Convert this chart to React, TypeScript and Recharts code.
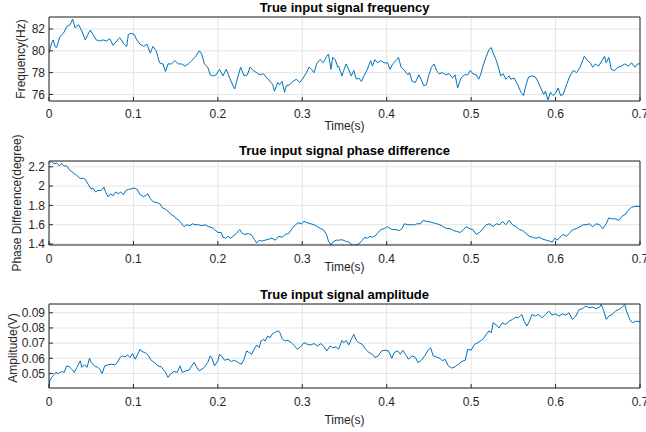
import React from 'react';
import { LineChart, Line, XAxis, YAxis, CartesianGrid } from 'recharts';

const timeTicks = [0, 0.1, 0.2, 0.3, 0.4, 0.5, 0.6, 0.7];
const freqTicks = [76, 78, 80, 82];
const phaseTicks = [1.4, 1.6, 1.8, 2, 2.2];
const ampTicks = [0.05, 0.06, 0.07, 0.08, 0.09];

const freqDomain = [75.4, 83.1];
const phaseDomain = [1.39, 2.26];
const ampDomain = [0.0404, 0.0958];

const titles = ['True input signal frequency', 'True input signal phase difference', 'True input signal amplitude'];
const yLabels = ['Frequency(Hz)', 'Phase Difference(degree)', 'Amplitude(V)'];
const xLabel = 'Time(s)';

// [time (s), frequency (Hz)]
const freqSamples: number[][] = [
  [0, 79.8], [0.003, 80.7], [0.005, 81.0], [0.007, 80.4], [0.009, 80.3], [0.013, 81.3], [0.017, 81.6], [0.021, 82.2], [0.025, 82.4], [0.028, 82.9],
  [0.031, 82.1], [0.035, 82.4], [0.039, 81.8], [0.043, 81.0], [0.046, 81.5], [0.049, 81.9], [0.052, 81.5], [0.056, 81.0], [0.06, 80.9], [0.064, 81.0],
  [0.068, 80.9], [0.072, 81.1], [0.076, 80.5], [0.08, 80.9], [0.084, 81.2], [0.088, 80.7], [0.092, 80.4], [0.094, 81.5], [0.097, 81.6], [0.101, 81.5],
  [0.104, 81.0], [0.108, 80.6], [0.112, 80.4], [0.116, 80.6], [0.12, 79.8], [0.123, 80.4], [0.127, 80.0], [0.131, 78.9], [0.135, 78.8], [0.138, 78.1],
  [0.141, 78.8], [0.145, 78.8], [0.149, 79.1], [0.153, 78.8], [0.157, 78.8], [0.161, 78.6], [0.165, 78.8], [0.169, 79.1], [0.173, 79.4], [0.178, 80.0],
  [0.181, 79.7], [0.184, 78.8], [0.188, 78.5], [0.191, 77.8], [0.194, 77.7], [0.198, 77.8], [0.202, 78.3], [0.206, 77.7], [0.21, 78.3], [0.214, 77.5],
  [0.218, 76.8], [0.22, 76.5], [0.223, 77.4], [0.227, 78.5], [0.231, 77.7], [0.235, 77.8], [0.238, 78.5], [0.242, 78.2], [0.246, 78.0], [0.25, 77.8],
  [0.254, 77.9], [0.258, 77.5], [0.262, 77.2], [0.265, 76.9], [0.267, 76.3], [0.271, 77.1], [0.273, 76.9], [0.276, 77.2], [0.279, 76.2], [0.281, 76.8],
  [0.285, 76.9], [0.289, 77.2], [0.293, 77.4], [0.297, 77.1], [0.301, 77.5], [0.305, 78.0], [0.308, 78.5], [0.311, 78.3], [0.314, 78.0], [0.317, 78.8],
  [0.321, 79.2], [0.325, 78.9], [0.329, 79.5], [0.331, 79.7], [0.334, 78.3], [0.336, 79.4], [0.339, 79.2], [0.342, 78.5],
  [0.343, 78.6], [0.347, 77.7], [0.349, 78.2], [0.352, 78.8], [0.355, 78.3], [0.358, 77.7], [0.361, 78.2], [0.364, 77.4], [0.367, 77.5], [0.37, 77.2],
  [0.373, 77.7], [0.377, 78.3], [0.381, 79.1], [0.383, 78.6], [0.386, 79.2], [0.389, 78.9], [0.393, 79.1], [0.397, 78.9], [0.401, 78.9], [0.404, 78.3],
  [0.407, 78.8], [0.411, 79.1], [0.414, 79.4], [0.417, 78.5], [0.421, 78.2], [0.425, 77.8], [0.427, 78.0], [0.43, 77.2], [0.434, 77.1], [0.438, 77.8],
  [0.44, 77.5], [0.444, 76.8], [0.447, 76.9], [0.45, 77.8], [0.453, 78.5], [0.456, 78.8], [0.459, 78.2], [0.462, 77.9], [0.466, 78.0], [0.47, 77.8],
  [0.474, 77.9], [0.478, 77.5], [0.481, 77.8], [0.484, 76.6], [0.488, 77.5], [0.492, 77.8], [0.496, 77.8], [0.499, 78.2], [0.502, 77.9], [0.506, 77.8],
  [0.509, 77.4], [0.512, 78.0], [0.514, 78.6], [0.518, 79.5], [0.521, 80.1], [0.524, 80.3], [0.526, 79.8], [0.53, 79.1], [0.533, 78.3], [0.535, 77.7],
  [0.538, 77.9], [0.541, 77.4], [0.545, 77.7], [0.547, 77.4], [0.551, 77.5], [0.555, 76.9], [0.559, 76.2], [0.562, 75.9], [0.565, 76.9], [0.568, 77.6],
  [0.572, 77.7], [0.576, 77.6], [0.579, 77.2], [0.583, 76.5], [0.586, 76.0], [0.588, 76.3], [0.591, 75.5], [0.594, 76.2], [0.597, 75.9], [0.6, 76.1],
  [0.603, 76.6], [0.606, 75.9], [0.609, 76.0], [0.613, 76.9], [0.617, 77.7], [0.621, 78.2], [0.625, 78.0], [0.629, 78.5], [0.632, 79.1], [0.634, 79.5],
  [0.638, 79.1], [0.641, 78.9], [0.644, 78.5], [0.647, 78.8], [0.651, 78.6], [0.655, 79.1], [0.658, 79.5], [0.66, 78.9], [0.663, 79.4], [0.666, 78.3],
  [0.67, 78.2], [0.674, 78.5], [0.678, 78.6], [0.682, 78.8], [0.686, 78.6], [0.69, 78.9], [0.694, 78.5], [0.697, 78.8], [0.7, 78.8],
];

// [time (s), phase difference (degree)]
const phaseSamples: number[][] = [
  [0, 2.24], [0.003, 2.255], [0.006, 2.23], [0.009, 2.24], [0.012, 2.21], [0.015, 2.23], [0.018, 2.21], [0.021, 2.21], [0.024, 2.17], [0.027, 2.15],
  [0.03, 2.13], [0.033, 2.11], [0.037, 2.08], [0.041, 2.08], [0.043, 2.07], [0.047, 2.01], [0.05, 1.97], [0.052, 1.98], [0.055, 1.94], [0.058, 1.955],
  [0.062, 1.955], [0.065, 1.99], [0.067, 1.94], [0.07, 1.89], [0.073, 1.92], [0.076, 1.9], [0.079, 1.94], [0.082, 1.92], [0.085, 1.94], [0.088, 1.91],
  [0.091, 1.955], [0.094, 1.965], [0.097, 1.97], [0.101, 1.98], [0.104, 1.97], [0.108, 1.91], [0.112, 1.89], [0.114, 1.9], [0.117, 1.92], [0.12, 1.87],
  [0.123, 1.84], [0.127, 1.83], [0.131, 1.82], [0.135, 1.77], [0.138, 1.76], [0.141, 1.74], [0.144, 1.71], [0.148, 1.69], [0.151, 1.66], [0.154, 1.645],
  [0.157, 1.61], [0.16, 1.58], [0.163, 1.6], [0.167, 1.59], [0.17, 1.61], [0.173, 1.6], [0.177, 1.6], [0.181, 1.59], [0.185, 1.6], [0.189, 1.58],
  [0.193, 1.57], [0.196, 1.55], [0.2, 1.52], [0.204, 1.52], [0.206, 1.47], [0.209, 1.46], [0.212, 1.48], [0.215, 1.46], [0.218, 1.48], [0.222, 1.51],
  [0.226, 1.55], [0.229, 1.51], [0.232, 1.5], [0.236, 1.51], [0.24, 1.49], [0.243, 1.45], [0.246, 1.41], [0.249, 1.44], [0.252, 1.43], [0.256, 1.44],
  [0.26, 1.45], [0.264, 1.46], [0.268, 1.44], [0.272, 1.48], [0.276, 1.47], [0.28, 1.5], [0.284, 1.51], [0.288, 1.56], [0.292, 1.6], [0.295, 1.62],
  [0.299, 1.61], [0.302, 1.635], [0.306, 1.62], [0.31, 1.61], [0.314, 1.6], [0.318, 1.58], [0.322, 1.56], [0.326, 1.54], [0.329, 1.49], [0.331, 1.43],
  [0.334, 1.39], [0.336, 1.42], [0.34, 1.44],
  [0.343, 1.44], [0.347, 1.445], [0.351, 1.43], [0.355, 1.42], [0.359, 1.39], [0.363, 1.39], [0.367, 1.4], [0.371, 1.44], [0.374, 1.47], [0.377, 1.46],
  [0.38, 1.48], [0.383, 1.47], [0.387, 1.49], [0.39, 1.52], [0.393, 1.55], [0.397, 1.56], [0.401, 1.58], [0.404, 1.56], [0.407, 1.55], [0.411, 1.55],
  [0.415, 1.54], [0.418, 1.56], [0.421, 1.61], [0.425, 1.6], [0.429, 1.6], [0.433, 1.6], [0.436, 1.61], [0.44, 1.61], [0.443, 1.645], [0.447, 1.635],
  [0.451, 1.63], [0.455, 1.62], [0.459, 1.61], [0.463, 1.6], [0.467, 1.58], [0.471, 1.56], [0.475, 1.56], [0.479, 1.54], [0.483, 1.53], [0.487, 1.52],
  [0.491, 1.55], [0.494, 1.58], [0.498, 1.56], [0.502, 1.55], [0.506, 1.5], [0.51, 1.52], [0.514, 1.56], [0.518, 1.6], [0.522, 1.61], [0.526, 1.58],
  [0.53, 1.61], [0.534, 1.6], [0.537, 1.635], [0.541, 1.6], [0.545, 1.645], [0.549, 1.6], [0.553, 1.58], [0.557, 1.55], [0.561, 1.54], [0.565, 1.51],
  [0.569, 1.48], [0.573, 1.47], [0.577, 1.46], [0.581, 1.47], [0.585, 1.45], [0.589, 1.44], [0.593, 1.43], [0.596, 1.42], [0.599, 1.46], [0.602, 1.44],
  [0.605, 1.47], [0.609, 1.5], [0.613, 1.48], [0.617, 1.52], [0.621, 1.55], [0.625, 1.56], [0.629, 1.58], [0.633, 1.6], [0.637, 1.6], [0.64, 1.61],
  [0.644, 1.58], [0.648, 1.61], [0.652, 1.6], [0.656, 1.56], [0.66, 1.61], [0.663, 1.67], [0.667, 1.66], [0.671, 1.66], [0.675, 1.645], [0.679, 1.69],
  [0.683, 1.71], [0.686, 1.75], [0.69, 1.78], [0.694, 1.79], [0.7, 1.79],
];

// [time (s), amplitude (V)]
const ampSamples: number[][] = [
  [0, 0.0413], [0.001, 0.0452], [0.003, 0.0474], [0.005, 0.0485], [0.008, 0.0507], [0.011, 0.05], [0.015, 0.0513], [0.018, 0.0507], [0.021, 0.055], [0.024, 0.0544],
  [0.027, 0.0528], [0.03, 0.0507], [0.033, 0.054], [0.035, 0.0561], [0.037, 0.0583], [0.039, 0.054], [0.042, 0.0557], [0.045, 0.054], [0.048, 0.06], [0.05, 0.0572],
  [0.054, 0.055], [0.058, 0.054], [0.06, 0.0528], [0.063, 0.05], [0.066, 0.055], [0.07, 0.0557], [0.074, 0.0561], [0.078, 0.0557], [0.081, 0.0572], [0.084, 0.0605],
  [0.087, 0.0616], [0.09, 0.0609], [0.093, 0.0622], [0.096, 0.0605], [0.099, 0.0631], [0.102, 0.0594], [0.105, 0.0627], [0.108, 0.066], [0.11, 0.0644], [0.114, 0.0638],
  [0.118, 0.0616], [0.121, 0.0587], [0.125, 0.0572], [0.129, 0.055], [0.133, 0.0544], [0.135, 0.0528], [0.138, 0.0507], [0.141, 0.0474], [0.144, 0.0496], [0.148, 0.0513],
  [0.152, 0.0507], [0.155, 0.055], [0.158, 0.0507], [0.162, 0.0517], [0.166, 0.0522], [0.169, 0.055], [0.172, 0.0572], [0.175, 0.054], [0.178, 0.0517], [0.181, 0.0528],
  [0.184, 0.054], [0.188, 0.0572], [0.191, 0.0616], [0.193, 0.06], [0.196, 0.055], [0.2, 0.0583], [0.202, 0.0627], [0.205, 0.0609], [0.208, 0.0587], [0.212, 0.0594],
  [0.216, 0.0579], [0.22, 0.0587], [0.224, 0.0572], [0.228, 0.0561], [0.231, 0.0594], [0.234, 0.0649], [0.237, 0.0638], [0.24, 0.0627], [0.243, 0.066], [0.246, 0.0688],
  [0.249, 0.067], [0.251, 0.0714], [0.254, 0.0725], [0.256, 0.0714], [0.259, 0.0747], [0.262, 0.0736], [0.264, 0.0758], [0.267, 0.0769], [0.271, 0.078], [0.273, 0.0775],
  [0.276, 0.0732], [0.279, 0.0714], [0.283, 0.0718], [0.287, 0.0703], [0.291, 0.0681], [0.294, 0.066], [0.298, 0.0675], [0.302, 0.0703], [0.306, 0.0692], [0.31, 0.0688],
  [0.314, 0.0697], [0.318, 0.0681], [0.322, 0.0697], [0.326, 0.0675], [0.329, 0.0649], [0.333, 0.0681], [0.336, 0.067], [0.34, 0.0675],
  [0.343, 0.066], [0.347, 0.0718], [0.349, 0.0703], [0.352, 0.0718], [0.355, 0.0688], [0.358, 0.0725], [0.361, 0.0758], [0.364, 0.0718], [0.367, 0.0703], [0.371, 0.0692],
  [0.375, 0.066], [0.379, 0.0638], [0.383, 0.0627], [0.386, 0.0605], [0.39, 0.0616], [0.394, 0.0649], [0.398, 0.0653], [0.402, 0.0649], [0.406, 0.06], [0.409, 0.0638],
  [0.413, 0.0649], [0.416, 0.0627], [0.419, 0.0653], [0.422, 0.0627], [0.426, 0.0594], [0.43, 0.0616], [0.434, 0.0605], [0.437, 0.0572], [0.441, 0.0587], [0.445, 0.0616],
  [0.449, 0.0653], [0.452, 0.067], [0.455, 0.0616], [0.459, 0.0609], [0.463, 0.06], [0.466, 0.0583], [0.469, 0.0594], [0.473, 0.055], [0.477, 0.0535], [0.481, 0.0544],
  [0.485, 0.0561], [0.489, 0.0579], [0.493, 0.0587], [0.496, 0.066], [0.5, 0.0653], [0.504, 0.0692], [0.508, 0.0703], [0.512, 0.0718], [0.514, 0.0725], [0.518, 0.0758],
  [0.521, 0.078], [0.524, 0.0769], [0.526, 0.0834], [0.53, 0.0819], [0.533, 0.08], [0.537, 0.0834], [0.541, 0.0823], [0.545, 0.0845], [0.549, 0.0856], [0.553, 0.0872],
  [0.556, 0.0867], [0.56, 0.0889], [0.563, 0.0841], [0.566, 0.0813], [0.569, 0.0845], [0.572, 0.0889], [0.576, 0.0878], [0.58, 0.0889], [0.584, 0.0867], [0.588, 0.0889],
  [0.592, 0.0911], [0.596, 0.0885], [0.6, 0.0893], [0.604, 0.0878], [0.608, 0.0893], [0.612, 0.0885], [0.616, 0.09], [0.62, 0.0856], [0.624, 0.0878], [0.628, 0.0922],
  [0.632, 0.0928], [0.636, 0.0944], [0.64, 0.0933], [0.644, 0.0937], [0.648, 0.0928], [0.652, 0.0937], [0.654, 0.0955], [0.657, 0.0915], [0.66, 0.0856], [0.663, 0.0878],
  [0.667, 0.0889], [0.671, 0.0911], [0.675, 0.0922], [0.679, 0.0937], [0.682, 0.0955], [0.684, 0.0911], [0.688, 0.0856], [0.691, 0.0834], [0.695, 0.0845], [0.7, 0.0841],
];

const FONT = '"Liberation Sans", Arial, Helvetica, sans-serif';
const TEXT = '#262626';
const GRID = '#e4e4e4';
const LINE = '#0072BD';

type PanelProps = {
  samples: number[][];
  domain: number[];
  yTicks: number[];
  xTickMargin: number;
};

function Panel({ samples, domain, yTicks, xTickMargin }: PanelProps) {
  const rows = samples.map(([t, v]) => ({ t, v }));
  const tickStyle = { fill: TEXT, fontSize: 12, fontFamily: FONT };
  return (
    <LineChart width={646} height={140} data={rows} margin={{ top: 16, right: 5, bottom: 9, left: 9 }}>
      <CartesianGrid xAxisId="b" yAxisId="l" stroke={GRID} strokeWidth={1} />
      <XAxis
        xAxisId="b" dataKey="t" type="number" domain={[0, 0.7]} ticks={timeTicks} allowDataOverflow interval={0}
        height={30} tickSize={-4} tickMargin={xTickMargin} stroke={TEXT} tick={tickStyle} tickFormatter={(v: number) => String(v)}
      />
      <XAxis
        xAxisId="top" orientation="top" dataKey="t" type="number" domain={[0, 0.7]} ticks={timeTicks} allowDataOverflow interval={0}
        height={1} tickSize={-4} tick={false} stroke={TEXT}
      />
      <YAxis
        yAxisId="l" type="number" domain={domain} ticks={yTicks} allowDataOverflow interval={0}
        width={40} tickSize={-4} tickMargin={8} stroke={TEXT} tick={tickStyle} tickFormatter={(v: number) => String(v)}
      />
      <YAxis
        yAxisId="r" orientation="right" type="number" domain={domain} ticks={yTicks} allowDataOverflow interval={0}
        width={1} tickSize={-4} tick={false} stroke={TEXT}
      />
      <Line xAxisId="b" yAxisId="l" dataKey="v" type="linear" stroke={LINE} strokeWidth={1} dot={false} isAnimationActive={false} />
    </LineChart>
  );
}

const centered = (x: number, y: number, extra: React.CSSProperties = {}): React.CSSProperties => ({
  position: 'absolute', left: x, top: y, transform: 'translate(-50%, -50%)', whiteSpace: 'nowrap',
  lineHeight: 1, fontFamily: FONT, ...extra,
});

export default function App() {
  const panelTops = [0, 144, 287];
  const titleY = [6.7, 149.7, 293.7];
  const xLabelY = [126, 267, 420];
  const yLabelPos = [[21, 58.5], [17, 203], [12.5, 347.5]];
  const xMargins = [12, 13, 13.5];
  const panels = [
    { samples: freqSamples, domain: freqDomain, yTicks: freqTicks },
    { samples: phaseSamples, domain: phaseDomain, yTicks: phaseTicks },
    { samples: ampSamples, domain: ampDomain, yTicks: ampTicks },
  ];
  return (
    <div style={{ position: 'absolute', left: 0, top: 0, width: 646, height: 432, background: '#fff', overflow: 'hidden' }}>
      {panels.map((p, i) => (
        <div key={i} style={{ position: 'absolute', left: 0, top: panelTops[i], width: 646, height: 140 }}>
          <Panel samples={p.samples} domain={p.domain} yTicks={p.yTicks} xTickMargin={xMargins[i]} />
        </div>
      ))}
      {titles.map((t, i) => (
        <div key={'t' + i} style={centered(344.5, titleY[i], { fontSize: 13, fontWeight: 'bold', color: '#000' })}>{t}</div>
      ))}
      {[0, 1, 2].map((i) => (
        <div key={'x' + i} style={centered(344.5, xLabelY[i], { fontSize: 12, color: TEXT })}>{xLabel}</div>
      ))}
      {yLabels.map((t, i) => (
        <div
          key={'y' + i}
          style={{ ...centered(yLabelPos[i][0], yLabelPos[i][1], { fontSize: 12, color: TEXT }), transform: 'translate(-50%, -50%) rotate(-90deg)' }}
        >
          {t}
        </div>
      ))}
    </div>
  );
}
